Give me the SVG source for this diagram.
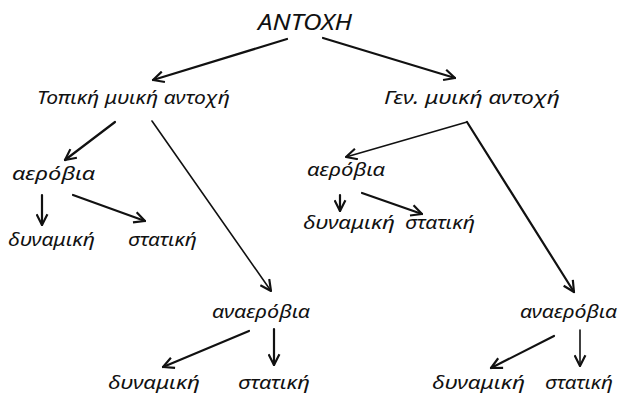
<svg xmlns="http://www.w3.org/2000/svg" width="621" height="396" viewBox="0 0 621 396">
<style>
text{font-family:"Noto Sans","DejaVu Sans",sans-serif;font-style:italic;fill:#111;font-size:19px}
.t{font-size:21px}
line{stroke:#111;stroke-width:2.2;fill:none;stroke-linecap:round}
.thin{stroke-width:1.6}
</style>
<defs>
<marker id="ah" viewBox="0 0 12 12" refX="11" refY="6" markerWidth="13" markerHeight="13" markerUnits="userSpaceOnUse" orient="auto">
<path d="M1,1 L11,6 L1,11" fill="none" stroke="#111" stroke-width="2" stroke-linejoin="round"/>
</marker>
</defs>
<rect width="621" height="396" fill="#fff"/>
<g id="antoxh"><text class="t" x="258" y="30" textLength="94" lengthAdjust="spacingAndGlyphs">ΑΝΤΟΧΗ</text></g>
<g id="topiki"><text x="37" y="104" textLength="193" lengthAdjust="spacingAndGlyphs">Τοπική μυική αντοχή</text></g>
<g id="gen"><text x="384" y="104" textLength="176" lengthAdjust="spacingAndGlyphs">Γεν. μυική αντοχή</text></g>
<g id="aer1"><text x="12" y="180" textLength="83" lengthAdjust="spacingAndGlyphs">αερόβια</text></g>
<g id="dyn1"><text x="8" y="246" textLength="87" lengthAdjust="spacingAndGlyphs">δυναμική</text></g>
<g id="stat1"><text x="128" y="246" textLength="69" lengthAdjust="spacingAndGlyphs">στατική</text></g>
<g id="aer2"><text x="307" y="176" textLength="78" lengthAdjust="spacingAndGlyphs">αερόβια</text></g>
<g id="dyn2"><text x="303" y="229" textLength="92" lengthAdjust="spacingAndGlyphs">δυναμική</text></g>
<g id="stat2"><text x="405" y="229" textLength="70" lengthAdjust="spacingAndGlyphs">στατική</text></g>
<g id="anaer1"><text x="212" y="318" textLength="98" lengthAdjust="spacingAndGlyphs">αναερόβια</text></g>
<g id="dyn3"><text x="108" y="389" textLength="92" lengthAdjust="spacingAndGlyphs">δυναμική</text></g>
<g id="stat3"><text x="238" y="389" textLength="72" lengthAdjust="spacingAndGlyphs">στατική</text></g>
<g id="anaer2"><text x="520" y="318" textLength="97" lengthAdjust="spacingAndGlyphs">αναερόβια</text></g>
<g id="dyn4"><text x="432" y="389" textLength="93" lengthAdjust="spacingAndGlyphs">δυναμική</text></g>
<g id="stat4"><text x="545" y="389" textLength="68" lengthAdjust="spacingAndGlyphs">στατική</text></g>
<g id="connectors">
<line x1="287" y1="39" x2="153" y2="80" marker-end="url(#ah)"/>
<line x1="323" y1="38" x2="455" y2="78" marker-end="url(#ah)"/>
<line x1="115" y1="122" x2="65" y2="160" marker-end="url(#ah)"/>
<line class="thin" x1="152" y1="121" x2="271" y2="291" marker-end="url(#ah)"/>
<line x1="42" y1="195" x2="42" y2="225" marker-end="url(#ah)"/>
<line x1="73" y1="195" x2="145" y2="221" marker-end="url(#ah)"/>
<line class="thin" x1="467" y1="122" x2="346" y2="157" marker-end="url(#ah)"/>
<line x1="467" y1="122" x2="574" y2="292" marker-end="url(#ah)"/>
<line x1="340" y1="195" x2="340" y2="211" marker-end="url(#ah)"/>
<line x1="362" y1="193" x2="422" y2="214" marker-end="url(#ah)"/>
<line x1="249" y1="331" x2="163" y2="367" marker-end="url(#ah)"/>
<line x1="274" y1="329" x2="274" y2="365" marker-end="url(#ah)"/>
<line x1="554" y1="336" x2="491" y2="368" marker-end="url(#ah)"/>
<line class="thin" x1="580" y1="330" x2="580" y2="366" marker-end="url(#ah)"/>
</g>
</svg>
